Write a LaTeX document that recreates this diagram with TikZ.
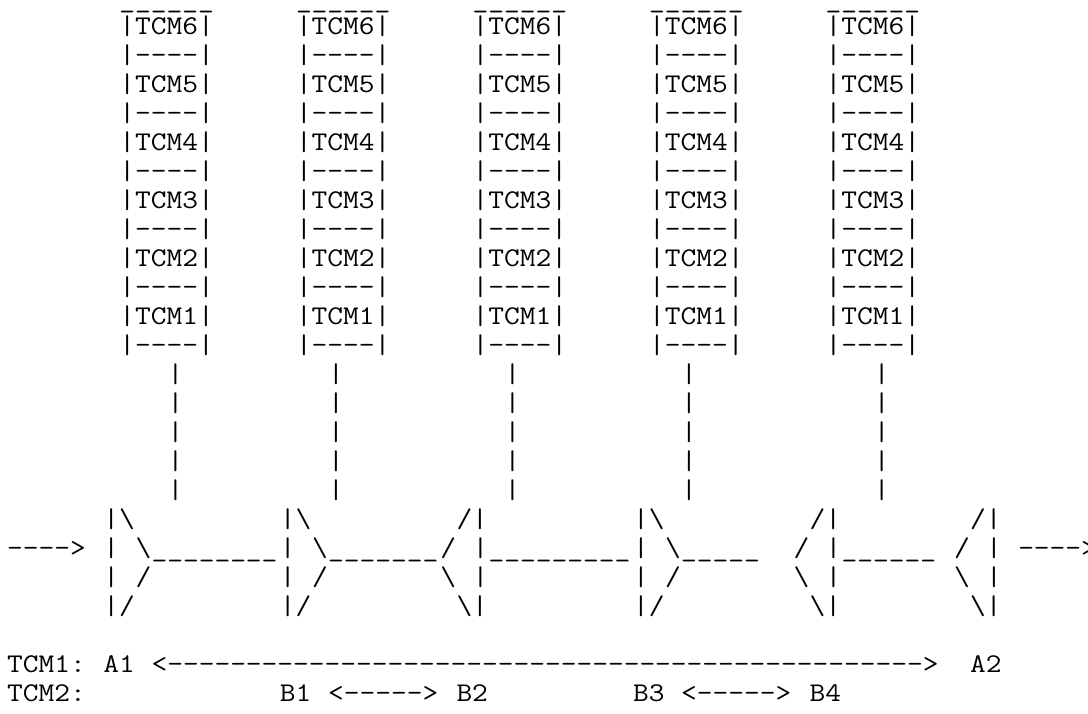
\documentclass[tikz,border=0pt]{standalone}
\usepackage{fontspec}
\setmonofont{Latin Modern Mono}[FakeStretch=1.132]

\tikzset{asc/.style={font=\ttfamily\fontsize{13.5}{14.5}\selectfont, inner sep=0pt, outer sep=0pt, anchor=base west}}

\begin{document}
\begin{tikzpicture}[x=8.025pt, y=-14.5pt, every node/.style={asc}]
\useasboundingbox (0pt,0pt) rectangle (544pt,-356.5pt);
\begin{scope}[shift={(3.55pt,-2.7pt)}]
            % stacks of TCM levels
            \foreach \b/\c in {1/7,2/18,3/29,4/40,5/51} {
                \node[yshift=-1.2pt] (lid\b) at (\c,0) {\smash{\_\_\_\_\_\_}};
                \foreach \k in {6,...,1} {
                    \node (tcm\b-\k) at (\c,{13-2*\k}) {|TCM\k|};
                    \node (sep\b-\k) at (\c,{14-2*\k}) {|----|};
                }
            }
            % drops down to the chain
            \foreach \b/\c in {1/10,2/20,3/31,4/42,5/54} {
                \foreach \r in {13,...,17} {
                    \node (drop\b-\r) at (\c,\r) {|};
                }
            }
            % points facing right
            \foreach \c in {6,17,39} {
                \node (rt\c-a) at (\c,18) {|\textbackslash};
                \node (rt\c-b) at (\c,19) {|};
                \node (rt\c-c) at (\c+2,19) {\textbackslash};
                \node (rt\c-d) at (\c,20) {|};
                \node (rt\c-e) at (\c+2,20) {/};
                \node (rt\c-f) at (\c,21) {|/};
            }
            % points facing left
            \foreach \c in {29,51,61} {
                \node (lt\c-a) at (\c-1,18) {/|};
                \node (lt\c-b) at (\c-2,19) {/};
                \node (lt\c-c) at (\c,19) {|};
                \node (lt\c-d) at (\c-2,20) {\textbackslash};
                \node (lt\c-e) at (\c,20) {|};
                \node (lt\c-f) at (\c-1,21) {\textbackslash|};
            }
            % wires between points
            \foreach \c/\n in {9/8,20/7,30/9,42/5,52/6} {
                \node (wire\c) at (\c,19) {\foreach \i in {1,...,\n}{\_}};
            }
            \node (in) at (0,19) {---->};
            \node (out) at (63,19) {---->};
            % spans per level
            \node (lvl1) at (0,23) {TCM1:};
            \node (A1) at (6,23) {A1};
            \node (spanA) at (9,23) {<\foreach \i in {1,...,48}{-}>};
            \node (A2) at (60,23) {A2};
            \node (lvl2) at (0,24) {TCM2:};
            \foreach \c/\p/\q in {17/B1/B2,39/B3/B4} {
                \node (\p) at (\c,24) {\p};
                \node (span\p) at (\c+3,24) {<----->};
                \node (\q) at (\c+11,24) {\q};
            }
\end{scope}
\end{tikzpicture}
\end{document}
